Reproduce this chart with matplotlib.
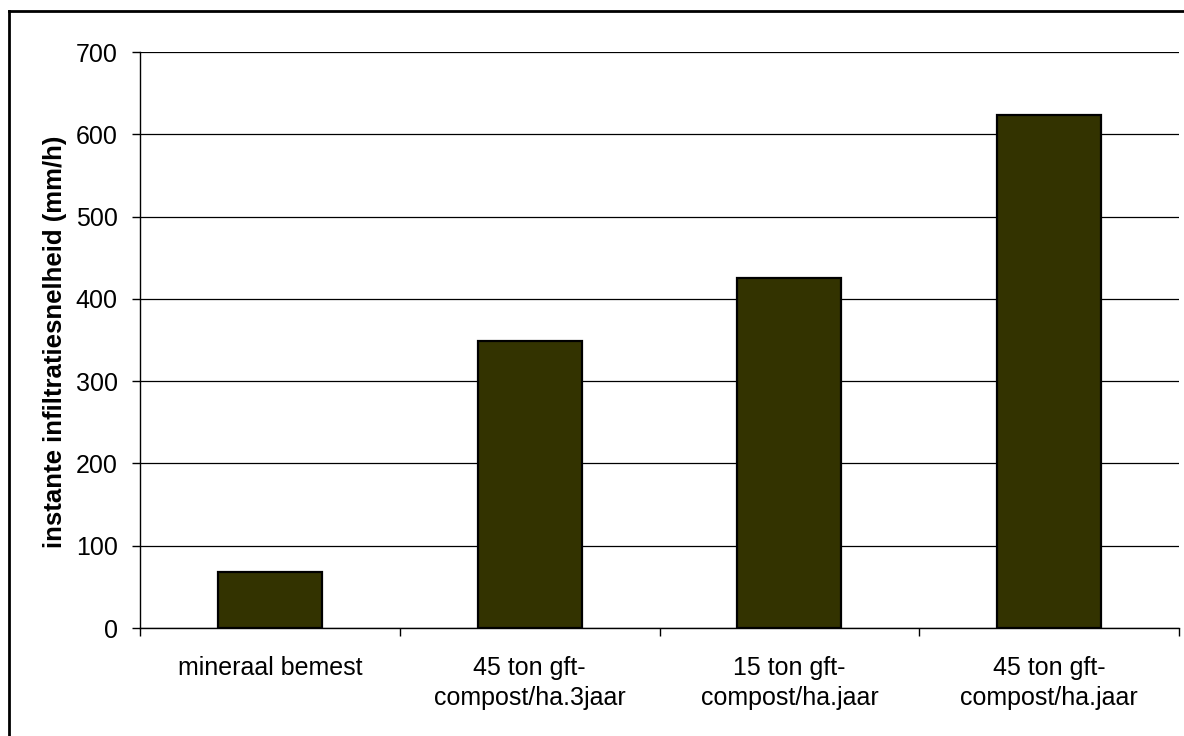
import matplotlib
matplotlib.use("Agg")
import matplotlib.pyplot as plt
from matplotlib.lines import Line2D

plt.rcParams['font.family'] = ['Liberation Sans', 'DejaVu Sans']

categories = ['mineraal bemest', '45 ton gft-\ncompost/ha.3jaar',
              '15 ton gft-\ncompost/ha.jaar', '45 ton gft-\ncompost/ha.jaar']
values = [68, 349, 425, 624]
yticks = [0, 100, 200, 300, 400, 500, 600, 700]

W, H = 1184, 736
fig = plt.figure(figsize=(W / 100, H / 100), dpi=100)
ax = fig.add_axes([140 / W, 1 - 628 / H, (1179 - 140) / W, (628 - 52) / H])

x = range(len(categories))
ax.bar(x, values, width=0.40, color='#333300', edgecolor='black', linewidth=1.6, zorder=3)

ax.set_xlim(-0.5, len(categories) - 0.5)
ax.set_ylim(0, 700)
ax.set_yticks(yticks)
ax.yaxis.grid(True, color='black', linewidth=0.9, zorder=0)

ax.set_xticks(list(x))
ax.set_xticklabels(categories, fontsize=18, linespacing=1.35)
ax.set_xticks([i - 0.5 for i in range(len(categories) + 1)], minor=True)
ax.tick_params(axis='x', which='major', length=0, pad=20)
ax.tick_params(axis='x', which='minor', length=6, width=1, direction='out')
ax.tick_params(axis='y', length=6, width=1, pad=10, labelsize=18)

for s in ['top', 'right']:
    ax.spines[s].set_visible(False)
for s in ['left', 'bottom']:
    ax.spines[s].set_linewidth(1.0)
    ax.spines[s].set_color('black')

ax.set_ylabel('instante infiltratiesnelheid (mm/h)', fontsize=18.5, fontweight='bold')
ax.yaxis.set_label_coords(-73 / (1179 - 140), (628 - 342) / (628 - 52))

# outer chart frame (left and top edges visible)
fig.add_artist(Line2D([9 / W, 9 / W], [0, 1 - 11 / H], transform=fig.transFigure, color='black', linewidth=2))
fig.add_artist(Line2D([9 / W, 1], [1 - 11 / H, 1 - 11 / H], transform=fig.transFigure, color='black', linewidth=2))

fig.savefig('out.png', dpi=100)
